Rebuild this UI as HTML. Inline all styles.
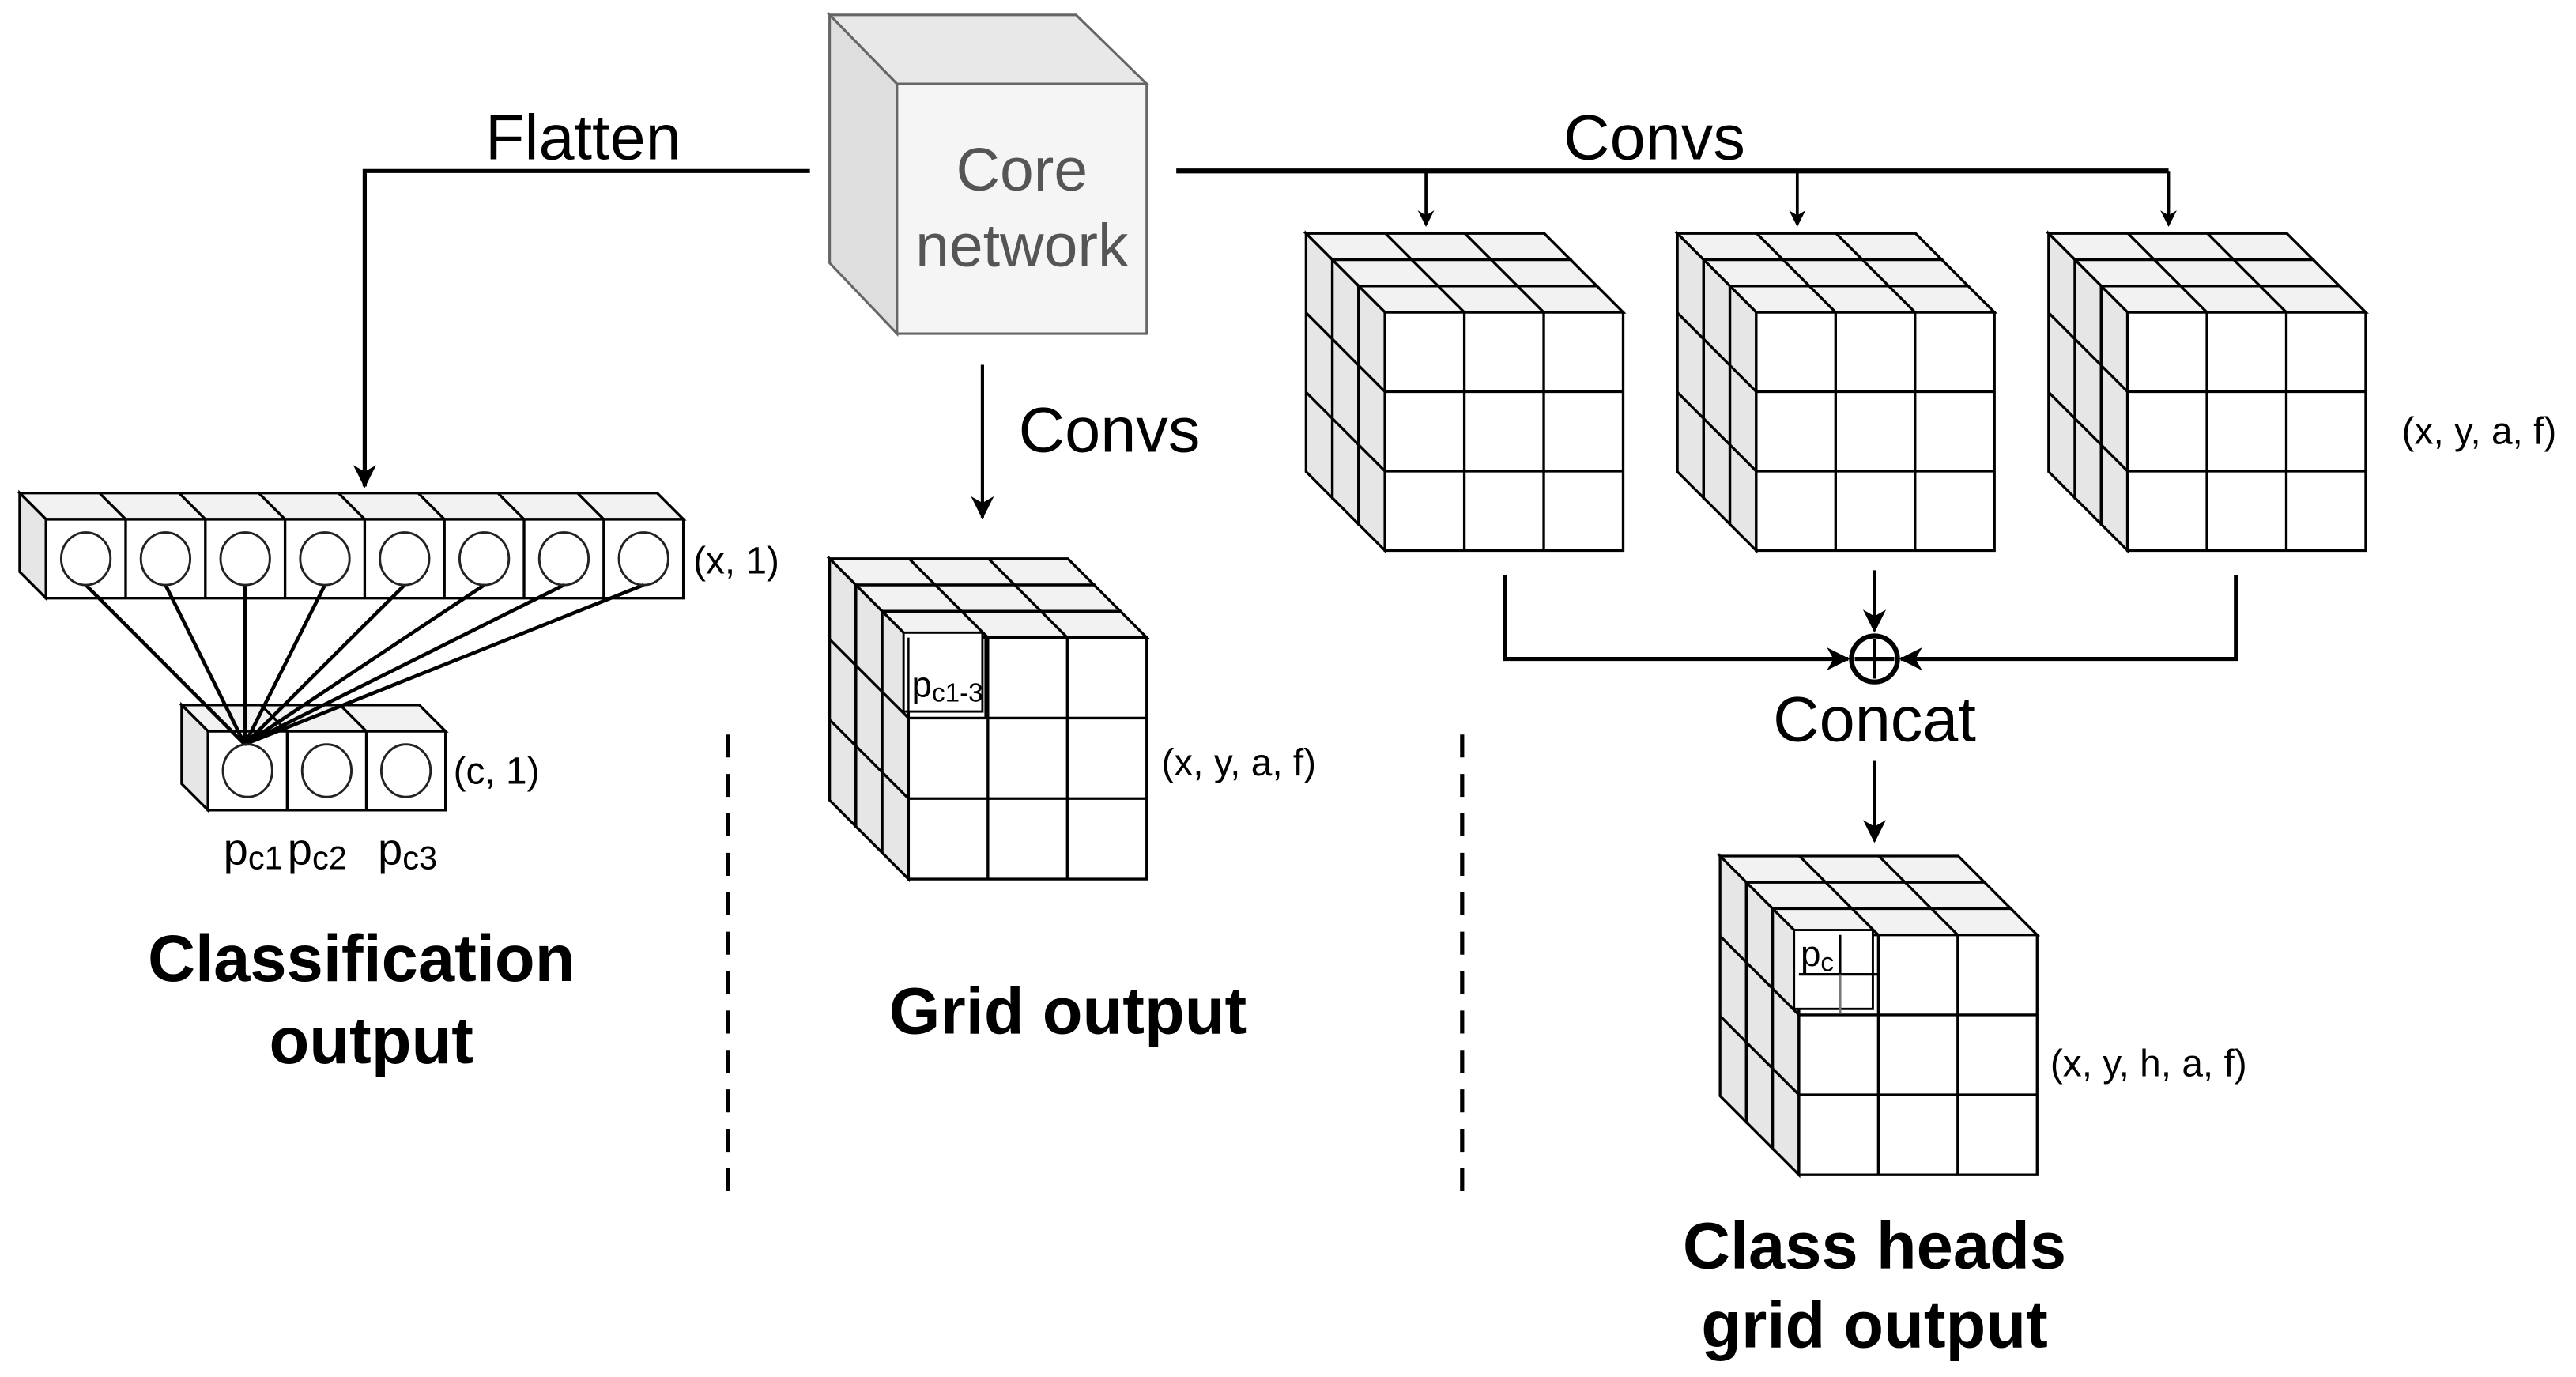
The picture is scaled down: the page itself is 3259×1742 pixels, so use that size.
<!DOCTYPE html>
<html><head><meta charset="utf-8"><style>
html,body{margin:0;padding:0;background:#fff;}
svg{display:block;}
text{font-family:"Liberation Sans",sans-serif;}
</style></head><body>
<svg id="s" width="3259" height="1742" viewBox="0 0 1568 838" xmlns="http://www.w3.org/2000/svg">
<defs>
<marker id="ah" markerWidth="10" markerHeight="10" refX="9" refY="5" orient="auto" markerUnits="userSpaceOnUse">
<path d="M0,0 L10,5 L0,10 L3,5 z" fill="#000"/>
</marker>
<marker id="ahb" markerWidth="14" markerHeight="14" refX="13" refY="7" orient="auto" markerUnits="userSpaceOnUse">
<path d="M0,0 L14,7 L0,14 L4,7 z" fill="#000"/>
</marker>
</defs>
<g id="cubes"></g>

<polygon points="505,9 655,9 698,51 546,51" fill="#e8e8e8" stroke="#666" stroke-width="1.5"/>
<polygon points="505,9 546,51 546,203 505,160" fill="#dedede" stroke="#666" stroke-width="1.5"/>
<rect x="546" y="51" width="152" height="152" fill="#f5f5f5" stroke="#666" stroke-width="1.5"/>
<text x="622" y="116" font-size="37" fill="#555" text-anchor="middle">Core</text>
<text x="622" y="162" font-size="37" fill="#555" text-anchor="middle">network</text>

<g stroke="#000" fill="none">
<polyline points="493,104 222,104 222,296" stroke-width="2.5" marker-end="url(#ahb)"/>
<line x1="716" y1="104" x2="1320" y2="104" stroke-width="3"/>
<line x1="868" y1="104" x2="868" y2="137" stroke-width="1.8" marker-end="url(#ah)"/>
<line x1="1094" y1="104" x2="1094" y2="137" stroke-width="1.8" marker-end="url(#ah)"/>
<line x1="1320" y1="104" x2="1320" y2="137" stroke-width="1.8" marker-end="url(#ah)"/>
<line x1="598" y1="222" x2="598" y2="315" stroke-width="2" marker-end="url(#ahb)"/>
<polyline points="916,350 916,401 1125,401" stroke-width="2.5" marker-end="url(#ahb)"/>
<polyline points="1361,350 1361,401 1157,401" stroke-width="2.5" marker-end="url(#ahb)"/>
<line x1="1141" y1="347" x2="1141" y2="384" stroke-width="1.8" marker-end="url(#ahb)"/>
<line x1="1141" y1="463" x2="1141" y2="512" stroke-width="2" marker-end="url(#ahb)"/>
<circle cx="1141" cy="401" r="14" stroke-width="3" fill="#fff"/>
<line x1="1141" y1="389" x2="1141" y2="413" stroke-width="2"/>
<line x1="1129" y1="401" x2="1153" y2="401" stroke-width="2.5"/>
<line x1="443" y1="447" x2="443" y2="725" stroke-width="2.5" stroke-dasharray="14,10"/>
<line x1="890" y1="447" x2="890" y2="725" stroke-width="2.5" stroke-dasharray="14,10"/>
</g>

<text x="355" y="97" font-size="39" text-anchor="middle">Flatten</text>
<text x="1007" y="97" font-size="39" text-anchor="middle">Convs</text>
<text x="620" y="275" font-size="39">Convs</text>
<text x="1141" y="451" font-size="39" text-anchor="middle">Concat</text>
<text x="422" y="349" font-size="23">(x, 1)</text>
<text x="276" y="477" font-size="23">(c, 1)</text>
<text x="707" y="472" font-size="23">(x, y, a, f)</text>
<text x="1462" y="270" font-size="23">(x, y, a, f)</text>
<text x="1248" y="655" font-size="23">(x, y, h, a, f)</text>
<text x="136" y="526" font-size="27">p<tspan font-size="20" dy="3">c1</tspan></text>
<text x="175" y="526" font-size="27">p<tspan font-size="20" dy="3">c2</tspan></text>
<text x="230" y="526" font-size="27">p<tspan font-size="20" dy="3">c3</tspan></text>
<text x="220" y="597" font-size="40" font-weight="bold" text-anchor="middle">Classification</text>
<text x="226" y="647" font-size="40" font-weight="bold" text-anchor="middle">output</text>
<text x="650" y="629" font-size="40" font-weight="bold" text-anchor="middle">Grid output</text>
<text x="1141" y="772" font-size="40" font-weight="bold" text-anchor="middle">Class heads</text>
<text x="1141" y="820" font-size="40" font-weight="bold" text-anchor="middle">grid output</text>
<text x="555" y="424" font-size="22">p<tspan font-size="16" dy="3">c1-3</tspan></text>
<text x="1096" y="588" font-size="22">p<tspan font-size="16" dy="3">c</tspan></text>
</svg>
<script>
var g=document.getElementById('cubes');
var out="";
function P(pts,fill,sw){out+='<polygon points="'+pts.map(function(p){return p[0]+','+p[1]}).join(' ')+'" fill="'+fill+'" stroke="#000" stroke-width="'+(sw||1.6)+'"/>';}
function L(a,b,c,d,sw,col){out+='<line x1="'+a+'" y1="'+b+'" x2="'+c+'" y2="'+d+'" stroke="'+(col||'#000')+'" stroke-width="'+(sw||1.6)+'"/>';}
function cube(fx,fy,w,h,d){
  var s=d/3;
  for(var k=2;k>=0;k--){
    var x=fx-k*s,y=fy-k*s;
    P([[x-s,y-s],[x+w-s,y-s],[x+w,y],[x,y]],'#f2f2f2');
    for(var i=1;i<3;i++){var cx=x+w*i/3;L(cx-s,y-s,cx,y);}
    P([[x-s,y-s],[x,y],[x,y+h],[x-s,y+h-s]],'#e6e6e6');
    for(var j=1;j<3;j++){var cy=y+h*j/3;L(x-s,cy-s,x,cy);}
    P([[x,y],[x+w,y],[x+w,y+h],[x,y+h]],'#fff');
    for(var i=1;i<3;i++){L(x+w*i/3,y,x+w*i/3,y+h);L(x,y+h*i/3,x+w,y+h*i/3);}
  }
}
cube(553,388,145,147,48);
cube(843,190,145,145,48);
cube(1069,190,145,145,48);
cube(1295,190,145,145,48);
cube(1095,569,145,146,48);
out+='<rect x="550" y="385" width="48" height="48" fill="#fff" stroke="#000" stroke-width="1.4"/>';
L(553,388,553,437,1.2);L(600,388,600,437,1.6);
out+='<rect x="1092" y="566" width="48" height="48" fill="#fff" stroke="#000" stroke-width="1.4"/>';
L(1095,593,1143,593,1.6);L(1120,569,1120,593,1.6);L(1120,593,1120,617,1.6,'#777');
function row(bx,by,n,cw,h,d){
  var x=bx+d,y=by+d,w=n*cw;
  P([[bx,by],[bx+w,by],[x+w,y],[x,y]],'#f2f2f2');
  for(var i=1;i<n;i++)L(bx+i*cw,by,x+i*cw,y);
  P([[bx,by],[x,y],[x,y+h],[bx,by+h]],'#e6e6e6');
  P([[x,y],[x+w,y],[x+w,y+h],[x,y+h]],'#fff');
  for(var i=1;i<n;i++)L(x+i*cw,y,x+i*cw,y+h);
}
row(12,300,8,48.5,48,16);
row(110.6,429,3,48.2,48,16);
for(var i=0;i<8;i++){var cx=28+48.5*i+24.25;L(cx,356,149,453,2.2);}
for(var i=0;i<8;i++){var cx=28+48.5*i+24.25;out+='<ellipse cx="'+cx+'" cy="340" rx="15" ry="16" fill="none" stroke="#222" stroke-width="1.4"/>';}
for(var i=0;i<3;i++){var cx=126.6+48.2*i+24.1;out+='<ellipse cx="'+cx+'" cy="469" rx="15" ry="16" fill="none" stroke="#222" stroke-width="1.4"/>';}
g.innerHTML=out;
</script>
</body></html>
